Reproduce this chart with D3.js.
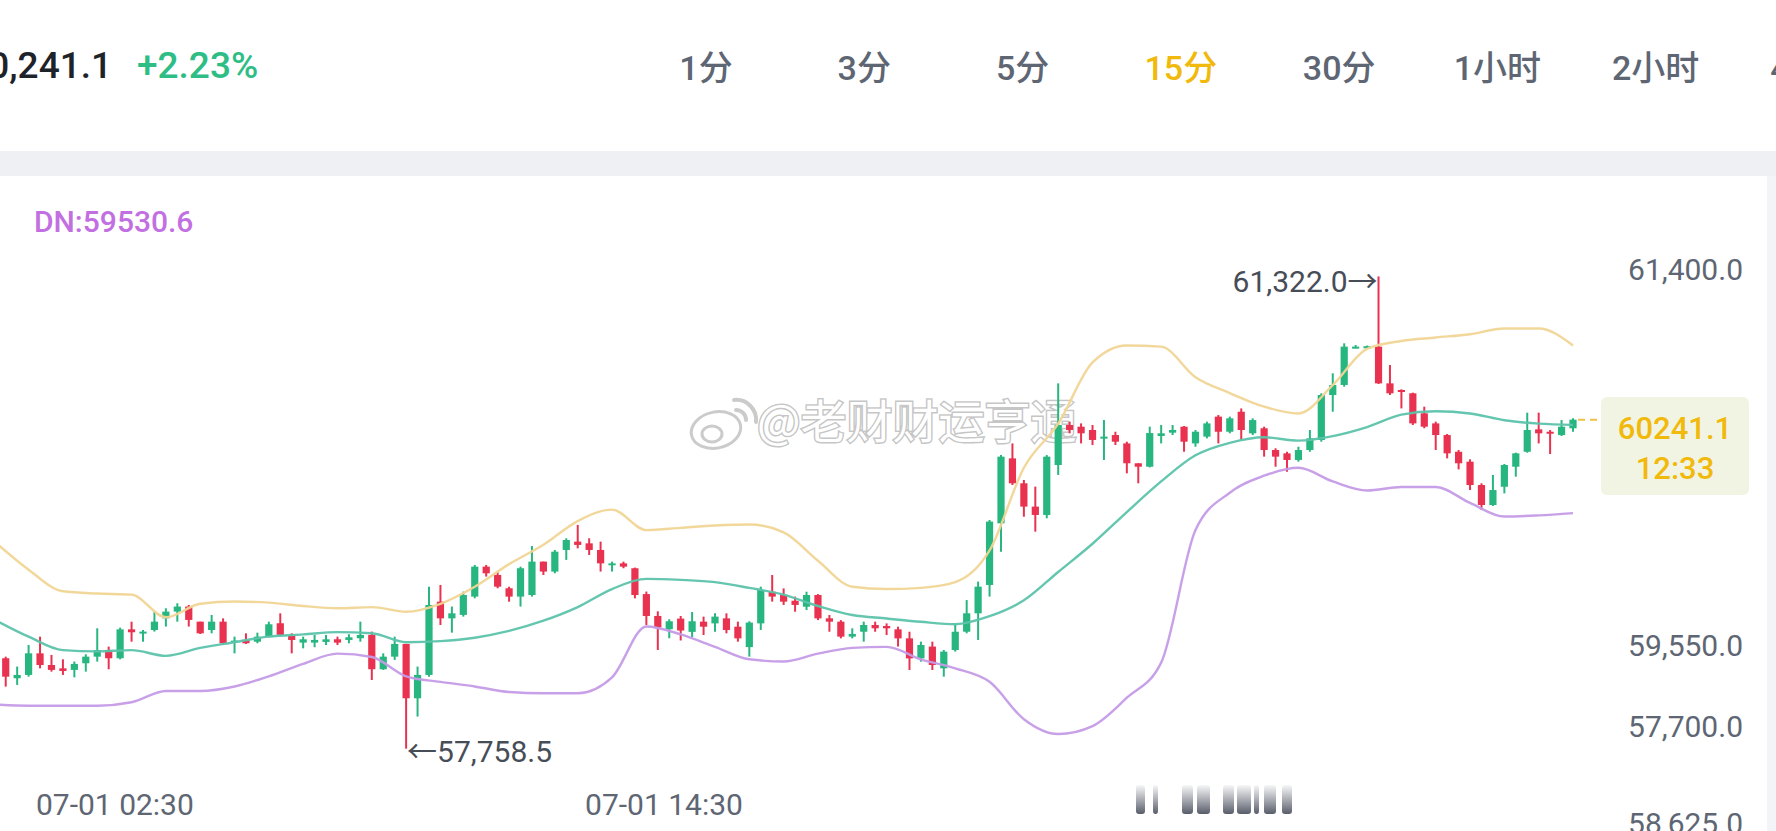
<!DOCTYPE html>
<html>
<head>
<meta charset="utf-8">
<script src="https://cdn.jsdelivr.net/npm/d3@7"></script>
<style>
body { margin: 0; background: #fff; overflow: hidden; }
svg { display: block; font-family: Roboto, "Noto Sans CJK SC", sans-serif; }
</style>
</head>
<body>
<svg id="chart" width="1776" height="831"></svg>
<script>
// 15 minute candles, first one opens 07-01 00:00
var open = [58441,58290,58315,58478,58390,58365,58353,58403,58453,58503,58441,58659,58637,58654,58742,58793,58831,58717,58654,58717,
    58564,58579,58566,58604,58705,58609,58559,58559,58564,58584,58579,58592,58617,58358,58453,58549,58139,58315,58868,58742,
    58768,58906,59132,59069,58969,58906,58918,59170,59095,59258,59321,59308,59258,59145,59157,59120,58925,58760,58660,58740,
    58640,58717,58704,58742,58679,58525,58704,58943,58918,58875,58830,58918,58742,58717,58604,58641,58692,58684,58659,58591,
    58440,58529,58365,58503,58641,58780,58994,59459,59949,59761,59585,59522,59899,60201,60188,60163,60100,60125,60062,59912,
    59886,60118,60143,60188,60062,60113,60264,60150,60301,60138,60176,60012,59987,59937,60012,60088,60427,60503,60779,60785,
    60792,60515,60465,60440,60289,60213,60125,59999,59924,59748,59597,59735,59886,59999,60168,60150,60125,60176];
var high = [58453,58378,58541,58604,58466,58433,58416,58471,58667,58529,58672,58717,58654,58793,58818,58856,58843,58717,58768,58742,
    58604,58629,58634,58717,58780,58629,58604,58617,58617,58604,58622,58717,58642,58478,58604,58549,58378,58981,58994,58831,
    58944,59145,59145,59095,58981,59132,59288,59170,59258,59346,59447,59346,59321,59170,59170,59125,58944,58795,58735,58760,
    58790,58755,58780,58780,58717,58720,58981,59069,58968,58906,58943,58925,58767,58729,58667,58717,58717,58704,58679,58641,
    58566,58566,58503,58704,58880,59019,59484,59974,60062,59786,59736,59974,60515,60226,60213,60201,60239,60150,60075,59912,
    60188,60201,60201,60193,60163,60226,60276,60264,60326,60251,60188,60025,59999,60037,60163,60440,60591,60817,60804,60800,
    61322,60653,60470,60445,60339,60226,60133,60012,59942,59761,59824,59907,59992,60294,60294,60163,60238,60251];
var low = [58227,58240,58302,58365,58340,58315,58297,58340,58416,58358,58433,58566,58566,58642,58680,58717,58680,58624,58629,58541,
    58478,58549,58554,58599,58609,58478,58516,58524,58541,58541,58554,58566,58277,58353,58428,57758.5,58001,58302,58692,58634,
    58755,58893,59057,58969,58868,58831,58906,59069,59082,59183,59270,59220,59095,59095,59120,58893,58692,58503,58592,58575,
    58600,58616,58641,58629,58566,58453,58654,58868,58843,58792,58805,58729,58641,58591,58591,58566,58641,58616,58529,58352,
    58415,58352,58302,58491,58629,58579,58906,59245,59748,59509,59396,59497,59824,60138,60062,60050,59937,60050,59836,59761,
    59881,60062,60125,59999,60037,60100,60062,60138,60088,60125,59962,59886,59849,59924,59999,60075,60301,60490,60779,60780,
    60510,60427,60326,60201,60176,60012,59949,59866,59710,59559,59590,59685,59811,59992,60062,59982,60118,60150];
var close = [58302,58315,58478,58390,58353,58345,58398,58453,58503,58441,58659,58637,58642,58717,58793,58831,58730,58629,58717,58554,
    58574,58554,58604,58697,58617,58579,58584,58579,58584,58559,58599,58617,58358,58453,58549,58139,58315,58843,58742,58780,
    58918,59132,59082,58981,58906,59120,59170,59095,59245,59333,59296,59258,59157,59157,59132,58918,58760,58672,58720,58650,
    58720,58679,58755,58654,58591,58710,58956,58906,58868,58843,58918,58742,58717,58604,58624,58692,58667,58667,58591,58440,
    58541,58390,58491,58641,58780,58981,59472,59962,59761,59585,59522,59962,60201,60163,60138,60088,60113,60075,59912,59886,
    60140,60138,60163,60075,60150,60213,60150,60251,60163,60238,60012,59962,59937,60012,60100,60427,60503,60792,60792,60795,
    60515,60440,60452,60213,60188,60125,59987,59912,59748,59597,59710,59899,59987,60163,60138,60138,60188,60241.1];

// Bollinger bands, at these candle indexes
var bandAt = [-1,2,5,8,11,14,17,20,23,26,29,32,35,38,41,44,47,50,53,56,59,62,65,68,71,74,77,80,83,86,89,92,95,98,101,104,107,110,113,116,119,122,125,128,131,134,137];
var bandUp = [59322,59109,58946,58929,58921,58750,58852,58869,58861,58835,58818,58827,58792,58852,58980,59151,59297,59476,59562,59408,
    59425,59442,59450,59391,59177,58980,58963,58972,59015,59254,59878,60211,60673,60801,60792,60561,60442,60339,60288,60502,
    60775,60835,60861,60886,60929,60929,60801];
var bandMid = [58733,58604,58502,58493,58502,58459,58519,58562,58604,58621,58638,58630,58562,58570,58596,58647,58724,58827,58963,59040,
    59032,59015,58972,58921,58835,58767,58741,58716,58698,58758,58878,59092,59305,59544,59775,59972,60066,60108,60083,60117,
    60185,60279,60305,60288,60237,60211,60202];
var bandDn = [58092,58083,58083,58083,58109,58194,58194,58228,58305,58399,58476,58450,58305,58263,58228,58186,58177,58177,58297,58681,
    58621,58527,58433,58416,58476,58519,58527,58433,58365,58263,57981,57869,57929,58143,58408,59408,59690,59818,59878,59775,
    59707,59733,59733,59613,59510,59519,59536];
var dnValue = 59530.6;

var tabs = ['1分', '3分', '5分', '15分', '30分', '1小时', '2小时', '4小时'];
var activeTab = '15分';
var timeTicks = [new Date(2024, 6, 1, 2, 30), new Date(2024, 6, 1, 14, 30)];
var yTickLabels = ['61,400.0', '59,550.0', '57,700.0', '58,625.0'];
var yTickAt = [61370, 58533, 57923, 57193];

var lastPrice = '60241.1';
var countdown = '12:33';

var svg = d3.select('#chart');
var green = '#27b67f', red = '#e8324f', grey = '#5e6673';

// header
svg.append('text')
    .attr('x', 112).attr('y', 78)
    .attr('text-anchor', 'end')
    .style('font-size', '37px').style('font-weight', 500)
    .attr('fill', '#1e2329')
    .text('60,241.1');
svg.append('text')
    .attr('x', 137).attr('y', 78)
    .style('font-size', '37px').style('font-weight', 500)
    .attr('fill', '#2ebd85')
    .text('+2.23%');

var tabX = d3.scalePoint().domain(tabs).range([706, 1814]);
svg.selectAll('.tab')
    .data(tabs)
    .enter()
    .append('text')
    .classed('tab', true)
    .attr('x', d => tabX(d))
    .attr('y', 80)
    .attr('text-anchor', 'middle')
    .style('font-size', '34px')
    .style('font-weight', 500)
    .attr('fill', d => d == activeTab ? '#f0b90b' : grey)
    .text(d => d);

svg.append('rect').attr('x', 0).attr('y', 151).attr('width', 1776).attr('height', 25).attr('fill', '#eff0f4');
svg.append('rect').attr('x', 1767).attr('y', 176).attr('width', 9).attr('height', 655).attr('fill', '#f3f4f7');

svg.append('text')
    .attr('x', 34).attr('y', 232)
    .style('font-size', '30px').style('font-weight', 500)
    .attr('fill', '#c26fe2')
    .text('DN:' + dnValue.toFixed(1));

// scales
var t0 = new Date(2024, 6, 1, 0, 0);
var step = 15 * 60 * 1000;
var x = d3.scaleTime()
    .domain([t0, new Date(2024, 6, 2, 11, 0)])
    .range([0, 1601.6]);
var y = d3.scaleLinear()
    .domain([57758.5, 61322])
    .range([748.7, 276.4]);

var candles = open.map((o, i) => ({
    t: new Date(+t0 + i * step), o: o, h: high[i], l: low[i], c: close[i]
}));
var cx = d => x(new Date(+d.t + step / 2));
var bodyW = 7.2;

// watermark sits under the marks
var wm = svg.append('g').attr('opacity', 0.95);
wm.append('ellipse').attr('cx', 716).attr('cy', 430).attr('rx', 25).attr('ry', 18)
    .attr('transform', 'rotate(-12 716 430)')
    .attr('fill', '#fff').attr('stroke', '#c9c9c9').attr('stroke-width', 3);
wm.append('ellipse').attr('cx', 712).attr('cy', 434).attr('rx', 10).attr('ry', 8)
    .attr('fill', '#fff').attr('stroke', '#c9c9c9').attr('stroke-width', 3);
wm.append('path').attr('d', 'M736,410 A10,10 0 0 1 746,420 M734,400 A20,20 0 0 1 756,422')
    .attr('fill', 'none').attr('stroke', '#c9c9c9').attr('stroke-width', 4).attr('stroke-linecap', 'round');
wm.append('text')
    .attr('x', 757).attr('y', 438)
    .style('font-family', '"Noto Sans CJK SC", sans-serif')
    .style('font-size', '46px')
    .attr('fill', '#fff')
    .attr('stroke', 'rgba(120,120,120,0.45)')
    .attr('stroke-width', 3)
    .style('paint-order', 'stroke')
    .text('@老财财运亨通');

// candles
var cg = svg.append('g');
cg.selectAll('.wick')
    .data(candles)
    .enter()
    .append('line')
    .attr('x1', cx).attr('x2', cx)
    .attr('y1', d => y(d.h)).attr('y2', d => y(d.l))
    .attr('stroke', d => d.c >= d.o ? green : red)
    .attr('stroke-width', 2);
cg.selectAll('.body')
    .data(candles)
    .enter()
    .append('rect')
    .attr('x', d => cx(d) - bodyW / 2)
    .attr('width', bodyW)
    .attr('y', d => y(Math.max(d.o, d.c)))
    .attr('height', d => Math.max(2, Math.abs(y(d.o) - y(d.c))))
    .attr('fill', d => d.c >= d.o ? green : red);

// bands
function band(vals, color) {
    var pts = bandAt.map((k, i) => [x(new Date(+t0 + k * step + step / 2)), y(vals[i])]);
    svg.append('path')
        .attr('d', d3.line().curve(d3.curveMonotoneX)(pts))
        .attr('fill', 'none')
        .attr('stroke', color)
        .attr('stroke-width', 2.4)
        .attr('opacity', 0.95);
}
band(bandUp, '#f1d595');
band(bandMid, '#5cc3ab');
band(bandDn, '#c59be7');

// high / low notes
var hi = candles[d3.maxIndex(candles, d => d.h)];
var lo = candles[d3.minIndex(candles, d => d.l)];
svg.append('text')
    .attr('x', cx(hi) - 1).attr('y', y(hi.h) + 5)
    .attr('dy', '0.35em').attr('text-anchor', 'end')
    .style('font-size', '30px').attr('fill', '#474d57')
    .text(d3.format(',.1f')(hi.h) + '→');
svg.append('text')
    .attr('x', cx(lo) + 1).attr('y', y(lo.l) + 3)
    .attr('dy', '0.35em')
    .style('font-size', '30px').attr('fill', '#474d57')
    .text('←' + d3.format(',.1f')(lo.l));

// last price
var last = candles[candles.length - 1];
svg.append('line')
    .attr('x1', cx(last) + 5).attr('x2', 1601)
    .attr('y1', y(last.c)).attr('y2', y(last.c))
    .attr('stroke', '#f0c04a').attr('stroke-width', 2)
    .attr('stroke-dasharray', '7 5');
svg.append('rect')
    .attr('x', 1601).attr('y', 397).attr('width', 148).attr('height', 98).attr('rx', 6)
    .attr('fill', '#f2f4e3');
svg.append('text')
    .attr('x', 1675).attr('y', 428).attr('dy', '0.36em').attr('text-anchor', 'middle')
    .style('font-size', '31px').style('font-weight', 500).attr('fill', '#f0b90b')
    .text(lastPrice);
svg.append('text')
    .attr('x', 1675).attr('y', 468).attr('dy', '0.36em').attr('text-anchor', 'middle')
    .style('font-size', '31px').style('font-weight', 500).attr('fill', '#f0b90b')
    .text(countdown);

// axes
var yAxis = svg.append('g')
    .attr('transform', 'translate(1743,0)')
    .call(d3.axisRight(y).tickValues(yTickAt).tickSize(0).tickFormat((d, i) => yTickLabels[i]));
yAxis.select('.domain').remove();
yAxis.selectAll('text')
    .attr('x', 0).attr('text-anchor', 'end')
    .style('font-size', '30px').style('font-family', 'Roboto')
    .attr('fill', grey);

var xAxis = svg.append('g')
    .attr('transform', 'translate(0,804)')
    .call(d3.axisBottom(x).tickValues(timeTicks).tickSize(0).tickFormat(d3.timeFormat('%m-%d %H:%M')));
xAxis.select('.domain').remove();
xAxis.selectAll('text')
    .attr('y', 0).attr('dy', '0.36em')
    .style('font-size', '30px').style('font-family', 'Roboto')
    .attr('fill', grey);

// blurred smudge under the chart
var grad = svg.append('defs').append('linearGradient')
    .attr('id', 'smudge').attr('x1', 0).attr('x2', 0).attr('y1', 0).attr('y2', 1);
grad.append('stop').attr('offset', '0%').attr('stop-color', '#5a5f6e').attr('stop-opacity', 0.05);
grad.append('stop').attr('offset', '100%').attr('stop-color', '#4f5462').attr('stop-opacity', 0.95);
var smudge = [[1136, 9], [1153, 5], [1182, 11], [1197, 13], [1223, 11], [1237, 14], [1254, 5], [1264, 12], [1282, 10]];
svg.selectAll('.smudge')
    .data(smudge)
    .enter()
    .append('rect')
    .attr('x', d => d[0]).attr('width', d => d[1])
    .attr('y', 785).attr('height', 29).attr('rx', 3)
    .attr('fill', 'url(#smudge)');
</script>
</body>
</html>
